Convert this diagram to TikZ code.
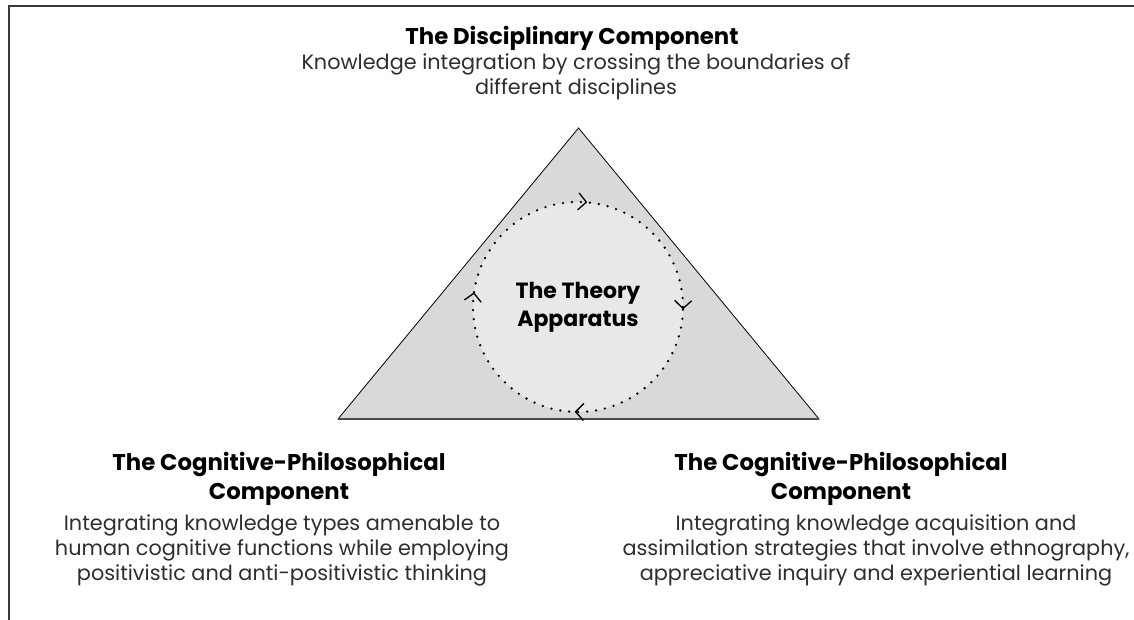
\documentclass[tikz,border=0pt]{standalone}
\usepackage{fontspec}
\setmainfont{Poppins}
\usetikzlibrary{arrows.meta,decorations.markings}
\definecolor{trifill}{HTML}{D9D9DA}
\definecolor{cirfill}{HTML}{E8E8E9}
\definecolor{txtgray}{HTML}{2E2E2E}
\definecolor{framegray}{HTML}{3A3A3A}
\tikzset{
    headtext/.style={font=\fontsize{22.8}{29}\selectfont\bfseries,text=black,align=center,inner sep=0pt},
    bodytext/.style={font=\fontsize{20.8}{25}\selectfont,text=txtgray,align=center,inner sep=0pt},
    dotline/.style={line width=2.6pt,line cap=round,dash pattern=on 0pt off 9pt},
}

\begin{document}
\begin{tikzpicture}[x=1pt,y=1pt]
    \useasboundingbox (0,0) rectangle (1134,620);
    \draw[framegray,line width=2pt] (1134,614) -- (9,614) -- (9,0); % frame

    \coordinate (apex) at (578.5,492);  % triangle corners
    \coordinate (baseL) at (338,201);
    \coordinate (baseR) at (819,201);
    \filldraw[fill=trifill,draw=black,line width=0.8pt] (apex) -- (baseR) -- (baseL) -- cycle;
    \draw[gray!60!black,line width=1.6pt] (baseL) -- (baseR);

    \node[circle,minimum size=210pt,fill=cirfill,inner sep=0pt,
          font=\fontsize{22}{28}\selectfont\bfseries,align=center] (apparatus) at (578,313) {The Theory\\Apparatus};
    \draw[dotline] (apparatus.center) circle[radius=105];
    \path[decoration={markings,
            mark=at position 0.014 with {\arrow[black]{Straight Barb[length=8pt,width=17pt,line width=1.3pt]}},
            mark=at position 0.254 with {\arrow[black]{Straight Barb[length=8pt,width=17pt,line width=1.3pt]}},
            mark=at position 0.505 with {\arrow[black]{Straight Barb[length=8pt,width=17pt,line width=1.3pt]}},
            mark=at position 0.772 with {\arrow[black]{Straight Barb[length=8pt,width=17pt,line width=1.3pt]}}},
          postaction=decorate] (apparatus.north) arc[start angle=90,end angle=-270,radius=105];

    \node[headtext,anchor=base] (disc) at (572,575) {The Disciplinary Component}; % top
    \node[bodytext,anchor=base] (disctxt) at (576,525) {Knowledge integration by crossing the boundaries of\\different disciplines};

    \node[headtext,anchor=base] (cogL) at (279,120) {The Cognitive-Philosophical\\Component}; % left
    \node[bodytext,anchor=base] (cogLtxt) at (282,39) {Integrating knowledge types amenable to\\human cognitive functions while employing\\positivistic and anti-positivistic thinking};

    \node[headtext,anchor=base] (cogR) at (841,120) {The Cognitive-Philosophical\\Component}; % right
    \node[bodytext,anchor=base] (cogRtxt) at (876,39) {Integrating knowledge acquisition and\\assimilation strategies that involve ethnography,\\appreciative inquiry and experiential learning};
\end{tikzpicture}
\end{document}
